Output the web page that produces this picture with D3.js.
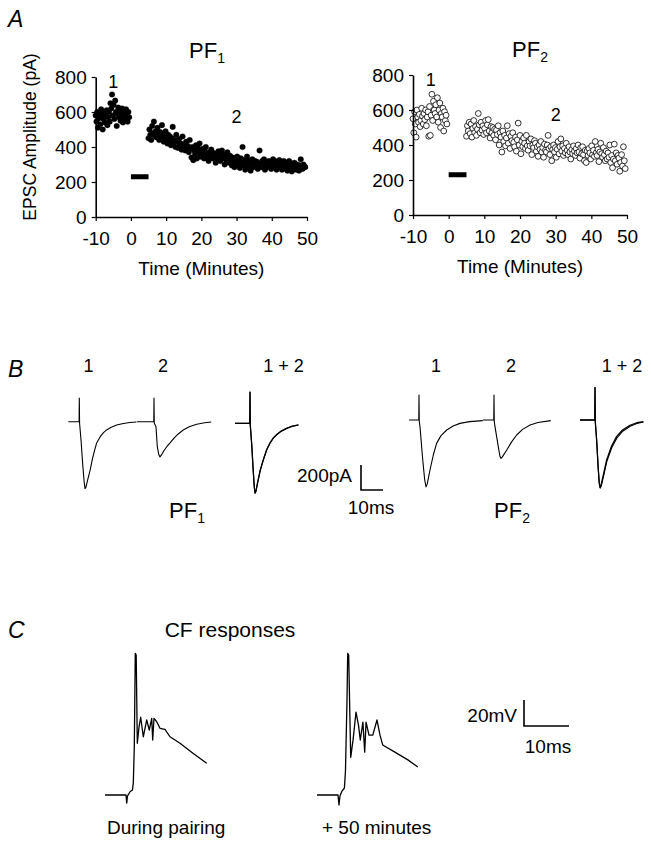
<!DOCTYPE html>
<html><head><meta charset="utf-8">
<script src="https://cdn.jsdelivr.net/npm/d3@7"></script>
<style>
html,body{margin:0;padding:0;background:#fff;}
svg{display:block;font-family:"Liberation Sans",Arial,Helvetica,sans-serif;}
</style></head><body>
<svg id="fig" width="651" height="858"></svg>
<script>
// ---------------- DATA ----------------
const timeTicks = [-10, 0, 10, 20, 30, 40, 50];
const ampTicks = [0, 200, 400, 600, 800];
const traceLabels = ["1", "2", "1 + 2"];
const preSpan = [-10, -0.5];   // minutes covered by baseline samples
const postSpan = [5, 49.5];    // minutes covered by post-pairing samples
const pairingSpan = [0, 5];
const pairingLevel = 230;

const pf1Pre = [580,545,600,510,565,590,530,615,575,500,560,595,540,580,610,525,570,600,545,650,620,700,580,640,560,665,600,520,590,625,570,605,550,590,620,540,575,600,560,615,580,545,600,570];
const pf1Post = [
450,500,470,440, 520,480,545,465, 490,455,510,470, 440,485,460,525,
470,430,455,490, 445,420,470,435, 460,410,450,515, 425,440,400,470,
430,395,445,410, 420,385,460,400, 415,380,430,395, 405,370,440,390,
340,400,325,380, 360,410,335,395, 370,420,345,385, 355,390,335,375,
400,345,360,320, 370,340,385,350, 335,365,345,310, 360,330,375,345,
320,350,380,335, 355,300,345,325, 370,330,310,350, 320,295,340,310,
285,325,305,345, 300,320,280,335, 310,400,295,325, 270,310,345,290,
320,300,265,310, 330,285,305,320, 290,315,275,300, 380,305,285,320,
295,330,270,310, 300,285,320,290, 315,275,305,330, 290,320,300,270,
310,285,325,295, 305,270,300,320, 280,310,290,265, 300,320,275,295,
260,305,285,310, 290,270,300,280, 265,295,330,285, 275,300,290,285];
const pf2Pre = [550,470,590,520,445,600,560,530,575,505,540,610,565,520,580,545,600,510,560,590,450,620,455,570,690,540,650,600,580,630,560,670,530,600,640,500,580,560,610,480,590,540,570,520];
const pf2Post = [
450,510,480,530, 465,520,445,495, 540,470,505,455, 490,580,515,470,
530,485,510,460, 495,540,470,515, 545,480,440,505, 470,500,455,490,
430,485,460,510, 400,470,445,360, 480,420,455,395, 440,510,410,465,
380,450,425,470, 415,390,445,365, 430,525,400,455, 350,420,390,440,
410,380,455,395, 370,420,395,435, 345,400,385,425, 410,365,390,335,
400,375,420,360, 385,330,405,370, 360,400,455,380, 345,390,310,375,
400,360,385,330, 375,420,350,390, 435,365,395,340, 380,355,410,370,
345,390,360,320, 375,350,395,365, 340,380,355,400, 360,325,385,350,
390,345,310,370, 300,365,340,380, 355,320,395,345, 370,335,420,355,
340,375,305,360, 410,350,330,385, 345,310,365,320, 355,330,400,300,
340,270,320,405, 310,355,290,340, 325,250,300,345, 280,390,310,265];

// Panel B EPSC traces: [ms from stimulus, pA]
const pf1Trace1 = [[-5,0],[-0.1,0],[0,190],[0.12,-10],[0.8,-150],[1.5,-330],[2.2,-480],[2.6,-535],[3.0,-525],[3.8,-465],[4.9,-390],[6,-295],[7,-225],[7.9,-170],[9.5,-120],[11,-88],[12.4,-66],[14.5,-45],[17,-27],[20,-15],[23,-7],[26,-3]];
const pf1Trace2 = [[-7.7,0],[-0.1,0],[0,190],[0.12,-10],[0.9,-40],[1.5,-200],[2.2,-265],[2.7,-282],[3.3,-268],[4.5,-232],[5.8,-200],[7.3,-170],[9,-133],[11,-98],[13.3,-66],[16,-40],[19.4,-20],[23,-9],[26,-3]];
const pf1Over1 = [[-6.8,0],[-0.1,0],[0,250],[0.12,-10],[0.7,-150],[1.4,-360],[1.9,-500],[2.3,-560],[2.7,-545],[3.5,-470],[4.6,-380],[6,-295],[7.5,-215],[9,-160],[10.5,-120],[12,-93],[14,-65],[16.5,-42],[19,-25],[22,-12]];
const pf1Over2 = [[-6.8,0],[-0.1,0],[0,250],[0.12,-15],[0.8,-170],[1.5,-390],[2,-520],[2.4,-555],[2.8,-535],[3.6,-462],[4.7,-372],[6.1,-290],[7.6,-212],[9.1,-158],[10.6,-118],[12.1,-90],[14.1,-63],[16.6,-40],[19.1,-24],[22,-13]];
const pf2Trace1 = [[-4.5,0],[-0.1,0],[0,200],[0.12,-10],[0.45,-53],[1.7,-320],[2.6,-480],[3.2,-535],[3.7,-515],[5,-400],[6.5,-280],[8,-187],[10,-125],[12.6,-80],[15.5,-48],[18.6,-27],[23,-13],[29,-5]];
const pf2Trace2 = [[-5,0],[-0.1,0],[0,200],[0.12,-10],[0.45,-53],[1.95,-213],[2.7,-290],[3.2,-307],[3.8,-295],[5.8,-240],[8,-175],[10.3,-120],[13,-75],[16.4,-40],[20,-20],[25.8,-5]];
const pf2Over1 = [[-6.8,0],[-0.1,0],[0,260],[0.12,-10],[0.7,-150],[1.4,-370],[1.9,-500],[2.3,-540],[2.7,-525],[3.8,-440],[5.3,-320],[7.5,-210],[9.8,-133],[12.5,-80],[15.9,-42],[19,-22],[22,-13]];
const pf2Over2 = [[-6.8,0],[-0.1,0],[0,260],[0.12,-12],[0.8,-170],[1.5,-395],[2,-515],[2.4,-545],[2.8,-530],[3.9,-448],[5.4,-330],[7.6,-222],[9.9,-145],[12.6,-90],[16,-50],[19,-28],[22,-16]];

// Panel C climbing-fibre responses: [ms from sweep start, mV from rest]
const cfDuring = [[0,0],[4.67,0],[4.82,-6.2],[5.0,-0.8],[5.56,2.5],[6.1,3.8],[6.29,9.2],[6.51,37],[6.73,109],[6.93,107.7],[7.18,39.8],[7.55,52],[7.93,59.8],[8.51,44.8],[9.27,57.7],[9.84,50],[10.38,59],[10.6,42.3],[10.89,59],[11.49,56.4],[12.22,51.3],[13.33,50.5],[14.44,44.8],[16.67,39.8],[19.62,32],[22.6,24.4]];
const cf50min = [[0,0],[4.67,0],[4.89,-7.7],[5.1,-0.8],[5.56,3],[6.1,5.4],[6.33,19],[6.67,73],[6.82,109],[7.04,107.7],[7.49,29],[8.0,42],[8.67,63.8],[9.22,53.8],[9.62,42.3],[10.2,56],[10.6,33],[10.9,56],[11.56,46],[12.4,46],[13.33,57.7],[14,46],[14.6,38.5],[17.3,33],[20.2,27],[22.4,21.5]];

const scaleB = {pA: 200, ms: 10};
const scaleC = {mV: 20, ms: 10};

// ---------------- DRAW ----------------
const svg = d3.select("#fig");
const FONT = 19;

function sampleTimes(span, n){ return d3.range(n).map(i => span[0] + i*(span[1]-span[0])/(n-1)); }

function scatterPanel(opts){
  const x = d3.scaleLinear().domain([-10,50]).range(opts.xr);
  const y = d3.scaleLinear().domain([0,800]).range(opts.yr);
  const g = svg.append("g");
  const pts = sampleTimes(preSpan, opts.pre.length).map((t,i)=>[t,opts.pre[i]])
     .concat(sampleTimes(postSpan, opts.post.length).map((t,i)=>[t,opts.post[i]]));
  g.selectAll("circle").data(pts).join("circle")
    .attr("cx", d=>x(d[0])).attr("cy", d=>y(d[1]))
    .attr("r", opts.open ? 2.9 : 2.8)
    .attr("fill", opts.open ? "#fff" : "#000")
    .attr("stroke", "#000").attr("stroke-width", opts.open ? 0.8 : 0.3);
  g.append("rect").attr("x", x(pairingSpan[0])).attr("width", x(pairingSpan[1])-x(pairingSpan[0]))
    .attr("y", y(pairingLevel)-2.5).attr("height", 5).attr("fill","#000");
  const ax = g.append("g").attr("transform",`translate(0,${opts.yr[0]})`)
    .call(d3.axisBottom(x).tickValues(timeTicks).tickFormat(d=>String(d)).tickSize(4).tickSizeOuter(0).tickPadding(11));
  const ay = g.append("g").attr("transform",`translate(${opts.xr[0]},0)`)
    .call(d3.axisLeft(y).tickValues(ampTicks).tickFormat(d=>String(d)).tickSize(4).tickSizeOuter(0).tickPadding(5));
  [ax,ay].forEach(a=>{
    a.selectAll("text").attr("font-size",FONT).attr("font-family","Liberation Sans, Arial, sans-serif").attr("fill","#000");
    a.select(".domain").attr("stroke-width",1.6);
    a.selectAll(".tick line").attr("stroke-width",1.2);
  });
  g.append("text").attr("x", x(-5)).attr("y", y(740)).attr("text-anchor","middle").attr("font-size",18).text("1");
  g.append("text").attr("x", x(30)).attr("y", y(540)).attr("text-anchor","middle").attr("font-size",18).text("2");
  const t = g.append("text").attr("x", opts.titleX).attr("y", opts.titleY).attr("text-anchor","middle").attr("font-size",22);
  t.append("tspan").text("PF");
  t.append("tspan").attr("font-size",14).attr("dy",5).text(opts.sub);
  g.append("text").attr("x", (opts.xr[0]+opts.xr[1])/2).attr("y", opts.yr[0]+58)
    .attr("text-anchor","middle").attr("font-size",FONT).text("Time (Minutes)");
}

scatterPanel({xr:[95.7,307], yr:[217,77], pre:pf1Pre, post:pf1Post, open:false, titleX:207, titleY:58, sub:"1"});
scatterPanel({xr:[413,627], yr:[215,75], pre:pf2Pre, post:pf2Post, open:true, titleX:530, titleY:57, sub:"2"});

svg.append("text").attr("transform","translate(36,137) rotate(-90)").attr("text-anchor","middle")
  .attr("font-size",17.5).text("EPSC Amplitude (pA)");

[["A",27],["B",377],["C",638]].forEach(([s,yy])=>{
  svg.append("text").attr("x",8).attr("y",yy).attr("font-size",23).attr("font-style","italic").text(s);
});

// ---- Panel B ----
const bx = d3.scaleLinear().domain([0,10]).range([0,22]);
const by = d3.scaleLinear().domain([0,200]).range([0,-25]);
const lineB = d3.line().x(d=>bx(d[0])).y(d=>by(d[1]));
const bTraces = [
  {d:pf1Trace1, x:79.3, y:421.7, w:1.1},
  {d:pf1Trace2, x:154, y:421.7, w:1.1},
  {d:pf1Over1, x:250, y:423.3, w:1.3},
  {d:pf1Over2, x:250, y:423.3, w:1.1},
  {d:pf2Trace1, x:419, y:420, w:1.1},
  {d:pf2Trace2, x:494, y:420, w:1.1},
  {d:pf2Over1, x:595, y:420, w:1.3},
  {d:pf2Over2, x:595, y:420, w:1.1}
];
bTraces.forEach(tr=>{
  svg.append("path").attr("transform",`translate(${tr.x},${tr.y})`).attr("d",lineB(tr.d))
    .attr("fill","none").attr("stroke","#000").attr("stroke-width",tr.w).attr("stroke-linejoin","round");
});
const bLabelPos = [[88.5,163,283.5],[436,511,622]];
bLabelPos.forEach(row=>row.forEach((xx,i)=>{
  svg.append("text").attr("x",xx).attr("y",372).attr("text-anchor","middle").attr("font-size",18).text(traceLabels[i]);
}));
const sbx = 361, sby = 490;
svg.append("path").attr("d",`M${sbx},${sby+by(scaleB.pA)}V${sby}H${sbx+bx(scaleB.ms)}`)
  .attr("fill","none").attr("stroke","#000").attr("stroke-width",1.6);
svg.append("text").attr("x",352).attr("y",482).attr("text-anchor","end").attr("font-size",FONT).text(scaleB.pA+"pA");
svg.append("text").attr("x",371).attr("y",514).attr("text-anchor","middle").attr("font-size",FONT).text(scaleB.ms+"ms");
[["1",187],["2",512]].forEach(([s,xx])=>{
  const t = svg.append("text").attr("x",xx).attr("y",518).attr("text-anchor","middle").attr("font-size",22);
  t.append("tspan").text("PF");
  t.append("tspan").attr("font-size",14).attr("dy",5).text(s);
});

// ---- Panel C ----
const cx = d3.scaleLinear().domain([0,10]).range([0,45]);
const cy = d3.scaleLinear().domain([0,20]).range([0,-26]);
const lineC = d3.line().x(d=>cx(d[0])).y(d=>cy(d[1]));
[{d:cfDuring,x:105,y:795},{d:cf50min,x:317,y:795}].forEach(tr=>{
  svg.append("path").attr("transform",`translate(${tr.x},${tr.y})`).attr("d",lineC(tr.d))
    .attr("fill","none").attr("stroke","#000").attr("stroke-width",1.3).attr("stroke-linejoin","round");
});
svg.append("text").attr("x",230).attr("y",637).attr("text-anchor","middle").attr("font-size",21).text("CF responses");
svg.append("text").attr("x",107).attr("y",834).attr("font-size",FONT).text("During pairing");
svg.append("text").attr("x",322).attr("y",834).attr("font-size",FONT).text("+ 50 minutes");
const scx = 524, scy = 726;
svg.append("path").attr("d",`M${scx},${scy+cy(scaleC.mV)}V${scy}H${scx+cx(scaleC.ms)}`)
  .attr("fill","none").attr("stroke","#000").attr("stroke-width",1.6);
svg.append("text").attr("x",517).attr("y",722).attr("text-anchor","end").attr("font-size",FONT).text(scaleC.mV+"mV");
svg.append("text").attr("x",548).attr("y",753).attr("text-anchor","middle").attr("font-size",FONT).text(scaleC.ms+"ms");
</script>
</body></html>
